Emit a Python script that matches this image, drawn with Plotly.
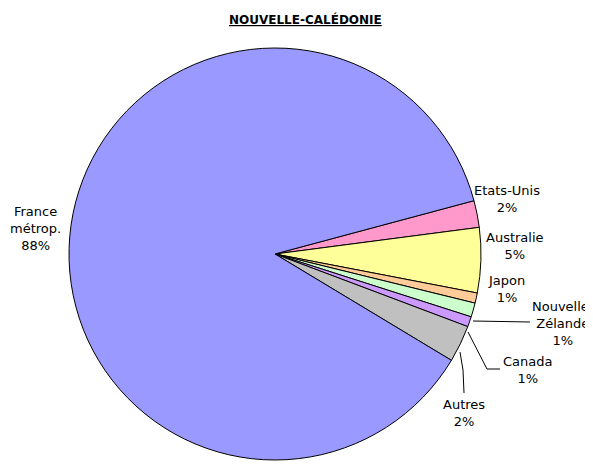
import plotly.graph_objects as go

# Data
labels = ["Etats-Unis", "Australie", "Japon", "Nouvelle-Zélande", "Canada", "Autres", "France métrop."]
values = [2.1, 5.1, 0.8, 1.1, 0.8, 2.9, 87.2]
pct_text = ["2%", "5%", "1%", "1%", "1%", "2%", "88%"]
label_text = ["Etats-Unis", "Australie", "Japon", "Nouvelle-<br>Zélande", "Canada", "Autres", "France<br>métrop."]
colors = ["#FF99CC", "#FFFF99", "#FFCC99", "#CCFFCC", "#CC99FF", "#C0C0C0", "#9999FF"]

# page is rendered with an 8px body margin
OFF = 8
W, H = 593 - OFF, 469 - 2 * OFF
CX, CY, R = 275 - OFF, 254 - OFF, 206


def px(x, y):
    """page pixel -> paper coords"""
    return (x - OFF) / W, 1 - (y - OFF) / H


fig = go.Figure()
fig.add_trace(go.Pie(
    labels=labels,
    values=values,
    sort=False,
    direction="clockwise",
    rotation=75,
    marker=dict(colors=colors, line=dict(color="black", width=1)),
    textinfo="none",
    hoverinfo="label+percent",
    showlegend=False,
    domain=dict(x=[(CX - R) / W, (CX + R) / W],
                y=[max(0, (H - CY - R) / H), min(1, (H - CY + R) / H)]),
))

# label positions (page pixel centres)
label_pos = [(507, 199), (515, 246), (506, 289), (563, 323), (527, 370), (464, 413), (35, 228)]
annotations = []
for lt, pt, (x, y) in zip(label_text, pct_text, label_pos):
    ax, ay = px(x, y)
    annotations.append(dict(
        x=ax, y=ay, xref="paper", yref="paper", showarrow=False,
        text=f"{lt}<br>{pt}", align="center", xanchor="center", yanchor="middle",
        font=dict(family="DejaVu Sans", size=13, color="black"),
    ))

tx, ty = px(305.5, 19)
annotations.append(dict(
    x=tx, y=ty, xref="paper", yref="paper", showarrow=False,
    text="<b><u>NOUVELLE-CALÉDONIE</u></b>", xanchor="center", yanchor="middle",
    font=dict(family="DejaVu Sans", size=12, color="black"),
))


def path(points):
    d = ""
    for i, (x, y) in enumerate(points):
        u, v = px(x, y)
        d += ("M" if i == 0 else "L") + f"{u},{v} "
    return d.strip()


leaders = [
    [(473, 321), (530, 322)],
    [(468, 332), (487, 369), (500, 369)],
    [(460, 352), (463, 370), (464, 393)],
]
shapes = [dict(type="path", xref="paper", yref="paper", path=path(p),
               line=dict(color="black", width=1)) for p in leaders]

fig.update_layout(
    width=W, height=H,
    margin=dict(l=0, r=0, t=0, b=0),
    paper_bgcolor="white", plot_bgcolor="white",
    annotations=annotations,
    shapes=shapes,
)

fig.write_html("out.html")
